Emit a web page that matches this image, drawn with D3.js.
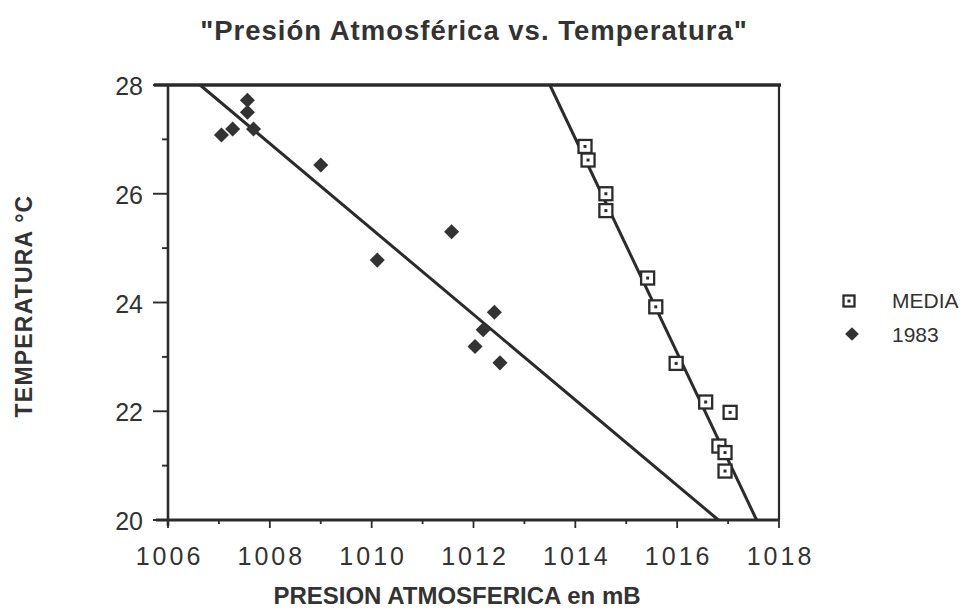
<!DOCTYPE html>
<html>
<head>
<meta charset="utf-8">
<script src="https://cdn.jsdelivr.net/npm/d3@7/dist/d3.min.js"></script>
<style>
  html, body { margin: 0; padding: 0; background: #fff; }
  svg { display: block; font-family: "Liberation Sans", Arial, Helvetica, sans-serif; }
</style>
</head>
<body>
<svg id="chart" width="971" height="612"></svg>
<script>
// Presión atmosférica (mB) y temperatura (°C): serie media y año 1983
const mediaPresion = [1014.19, 1014.25, 1014.60, 1014.60, 1015.42, 1015.58, 1015.98, 1016.56, 1017.04, 1016.82, 1016.94, 1016.94];
const mediaTemp    = [26.87, 26.62, 26.00, 25.69, 24.45, 23.92, 22.88, 22.17, 21.98, 21.36, 21.24, 20.90];

const anio1983Presion = [1007.05, 1007.27, 1007.56, 1007.56, 1007.68, 1009.00, 1010.11, 1011.57, 1012.41, 1012.19, 1012.03, 1012.52];
const anio1983Temp    = [27.08, 27.19, 27.72, 27.50, 27.19, 26.53, 24.78, 25.30, 23.82, 23.50, 23.19, 22.89];

// Rectas de ajuste (extremos en presión, temperatura)
const ajusteMediaPresion = [1013.50, 1017.56];
const ajusteMediaTemp    = [28, 20];
const ajuste1983Presion  = [1006.63, 1016.81];
const ajuste1983Temp     = [28, 20];

const xTicks = [1006, 1007, 1008, 1009, 1010, 1011, 1012, 1013, 1014, 1015, 1016, 1017, 1018];
const xTickLabels = [1006, 1008, 1010, 1012, 1014, 1016, 1018];
const yTicks = [20, 21, 22, 23, 24, 25, 26, 27, 28];
const yTickLabels = [20, 22, 24, 26, 28];

const seriesNames = ["MEDIA", "1983"];
const titulo = "\"Presión Atmosférica vs. Temperatura\"";
const xTitulo = "PRESION ATMOSFERICA en mB";
const yTitulo = "TEMPERATURA °C";

const ink = "#2b2b2b";
const svg = d3.select("#chart");

const x = d3.scaleLinear().domain([1006, 1018]).range([168, 779]);
const y = d3.scaleLinear().domain([20, 28]).range([520, 85]);

// Título
svg.append("text")
  .attr("x", 474).attr("y", 40)
  .attr("text-anchor", "middle")
  .attr("font-size", 27.5).attr("font-weight", "bold")
  .attr("letter-spacing", 1)
  .attr("fill", "#333")
  .text(titulo);

// Marco: borde superior grueso, borde derecho
svg.append("line")
  .attr("x1", x(1006) - 14).attr("x2", x(1018) + 2)
  .attr("y1", y(28)).attr("y2", y(28))
  .attr("stroke", ink).attr("stroke-width", 3.4);
svg.append("line")
  .attr("x1", x(1018)).attr("x2", x(1018))
  .attr("y1", y(28)).attr("y2", y(20))
  .attr("stroke", ink).attr("stroke-width", 2.2);

// Eje X
const gx = svg.append("g").attr("transform", `translate(0,${y(20)})`);
gx.append("line").attr("x1", x(1006) - 12).attr("x2", x(1018))
  .attr("stroke", ink).attr("stroke-width", 2.8);
gx.selectAll("line.tick").data(xTicks).join("line")
  .attr("class", "tick")
  .attr("x1", d => x(d)).attr("x2", d => x(d))
  .attr("y1", d => d === 1018 ? -6 : 0)
  .attr("y2", d => (d % 2 === 0) ? 8 : 4)
  .attr("stroke", ink).attr("stroke-width", 1.8);
gx.selectAll("text").data(xTickLabels).join("text")
  .attr("x", d => x(d) + 1.5).attr("y", 45)
  .attr("text-anchor", "middle")
  .attr("font-size", 25).attr("letter-spacing", 3)
  .attr("fill", "#333")
  .text(d => d);

// Eje Y
const gy = svg.append("g").attr("transform", `translate(${x(1006)},0)`);
gy.append("line").attr("y1", y(28)).attr("y2", y(20) + 6)
  .attr("stroke", ink).attr("stroke-width", 2.6);
gy.selectAll("line.tick").data(yTicks).join("line")
  .attr("class", "tick")
  .attr("y1", d => y(d)).attr("y2", d => y(d))
  .attr("x1", d => (d % 2 === 0) ? -15 : -6).attr("x2", 0)
  .attr("stroke", ink).attr("stroke-width", 1.9);
gy.selectAll("text").data(yTickLabels).join("text")
  .attr("x", -25).attr("y", d => y(d) + 1)
  .attr("dy", "0.36em")
  .attr("text-anchor", "end")
  .attr("font-size", 25)
  .attr("fill", "#333")
  .text(d => d);

// Títulos de ejes
svg.append("text")
  .attr("x", 457).attr("y", 604)
  .attr("text-anchor", "middle")
  .attr("font-size", 24).attr("font-weight", "bold")
  .attr("fill", "#333")
  .text(xTitulo);
svg.append("text")
  .attr("transform", `translate(32,${306}) rotate(-90)`)
  .attr("text-anchor", "middle")
  .attr("font-size", 23).attr("font-weight", "bold")
  .attr("letter-spacing", 1.2)
  .attr("fill", "#333")
  .text(yTitulo);

// Rectas de ajuste
const recta = d3.line().x(d => x(d[0])).y(d => y(d[1]));
svg.append("path")
  .datum(d3.zip(ajuste1983Presion, ajuste1983Temp))
  .attr("d", recta).attr("fill", "none")
  .attr("stroke", ink).attr("stroke-width", 3);
svg.append("path")
  .datum(d3.zip(ajusteMediaPresion, ajusteMediaTemp))
  .attr("d", recta).attr("fill", "none")
  .attr("stroke", ink).attr("stroke-width", 3);

// Marcadores
const diamante = d3.symbol().type(d3.symbolDiamond2).size(145);

function cuadrado(g, cx, cy, s) {
  g.append("rect")
    .attr("x", cx - s / 2).attr("y", cy - s / 2)
    .attr("width", s).attr("height", s)
    .attr("fill", "#fff").attr("stroke", ink).attr("stroke-width", 2.3);
  g.append("rect")
    .attr("x", cx - 1.5).attr("y", cy - 1.5)
    .attr("width", 3).attr("height", 3)
    .attr("fill", ink);
}

const gMedia = svg.append("g");
d3.zip(mediaPresion, mediaTemp).forEach(([p, t]) => cuadrado(gMedia, x(p), y(t), 13));

svg.append("g").selectAll("path")
  .data(d3.zip(anio1983Presion, anio1983Temp))
  .join("path")
  .attr("transform", d => `translate(${x(d[0])},${y(d[1])})`)
  .attr("d", diamante)
  .attr("fill", "#333");

// Leyenda
const leg = svg.append("g");
cuadrado(leg, 849, 301, 11);
leg.append("path").attr("transform", "translate(852,334)")
  .attr("d", d3.symbol().type(d3.symbolDiamond2).size(120))
  .attr("fill", "#333");
leg.selectAll("text").data(seriesNames).join("text")
  .attr("x", 892).attr("y", (d, i) => 308 + i * 34)
  .attr("font-size", 21)
  .attr("fill", "#333")
  .text(d => d);
</script>
</body>
</html>
